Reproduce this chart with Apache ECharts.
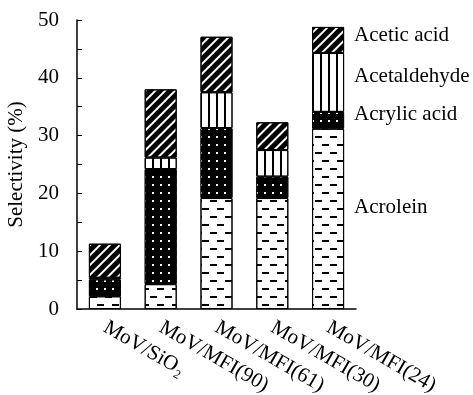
<!DOCTYPE html>
<html>
<head>
<meta charset="utf-8">
<script src="https://cdn.jsdelivr.net/npm/echarts@6/dist/echarts.min.js"></script>
<style>html,body{margin:0;padding:0;background:#fff}#c{width:473px;height:395px}</style>
</head>
<body>
<div id="c"></div>
<script>
var categories = ['MoV/SiO\u2082', 'MoV/MFI(90)', 'MoV/MFI(61)', 'MoV/MFI(30)', 'MoV/MFI(24)'];
var acrolein = [2.2, 4.3, 19.2, 19.2, 31.2];
var acrylicAcid = [2.9, 19.9, 12.1, 3.7, 2.9];
var acetaldehyde = [0.3, 2.0, 6.2, 4.6, 10.2];
var aceticAcid = [5.9, 11.8, 9.6, 4.8, 4.5];
var yTicks = [0, 10, 20, 30, 40, 50];

var FONT = 'Liberation Serif';
var chart = echarts.init(document.getElementById('c'));

function withEndLabel(arr, offY) {
  return arr.map(function (v, i) {
    if (i === arr.length - 1) {
      return { value: v, label: { show: true, position: 'right', distance: 10, offset: [0, offY] } };
    }
    return v;
  });
}

function mkSeries(name, data, color, decal, offY) {
  return {
    name: name, type: 'bar', stack: 'total', barWidth: 32,
    data: withEndLabel(data, offY),
    itemStyle: { color: color, borderColor: '#000', borderWidth: 1, decal: decal },
    label: { show: false, formatter: '{a}', color: '#000', fontFamily: FONT, fontSize: 21 },
    emphasis: { disabled: true }
  };
}

chart.setOption({
  animation: false,
  backgroundColor: '#fff',
  grid: { left: 77, right: 117, top: 20, bottom: 86, outerBoundsMode: 'none', containLabel: false },
  xAxis: {
    type: 'category', data: categories,
    axisLine: { lineStyle: { color: '#000', width: 1.5 } },
    axisTick: { show: false },
    axisLabel: { rotate: -30, margin: 17, color: '#000', fontFamily: FONT, fontSize: 21, interval: 0 }
  },
  yAxis: {
    type: 'value', min: 0, max: 50, interval: 5,
    name: 'Selectivity (%)', nameLocation: 'middle', nameGap: 46,
    nameTextStyle: { color: '#000', fontFamily: FONT, fontSize: 21 },
    axisLine: { show: true, lineStyle: { color: '#000', width: 1.5 } },
    axisTick: { show: true, inside: true, length: 5, lineStyle: { color: '#000' } },
    splitLine: { show: false },
    axisLabel: {
      color: '#000', fontFamily: FONT, fontSize: 21, margin: 18,
      formatter: function (v) { return yTicks.indexOf(v) >= 0 ? String(v) : ''; }
    }
  },
  series: [
    mkSeries('Acrolein', acrolein, '#fff', {
      symbol: 'rect', symbolSize: 1, symbolKeepAspect: false, color: '#000',
      dashArrayX: [[6.5, 7.5], [0, 7, 6.5, 0.5]], dashArrayY: [1.7, 5.8]
    }, -11),
    mkSeries('Acrylic acid', acrylicAcid, '#000', {
      symbol: 'rect', symbolSize: 1, symbolKeepAspect: false, color: '#fff',
      dashArrayX: [1.8, 5.5], dashArrayY: [1.8, 5.5]
    }, -6),
    mkSeries('Acetaldehyde', acetaldehyde, '#fff', {
      symbol: 'rect', symbolSize: 1, symbolKeepAspect: false, color: '#000',
      dashArrayX: [2, 6], dashArrayY: [1, 0]
    }, -6),
    mkSeries('Acetic acid', aceticAcid, '#fff', {
      symbol: 'rect', symbolSize: 1, symbolKeepAspect: false, color: '#000',
      dashArrayX: [1, 0], dashArrayY: [5, 2], rotation: -Math.PI / 4
    }, -4)
  ]
});
</script>
</body>
</html>
